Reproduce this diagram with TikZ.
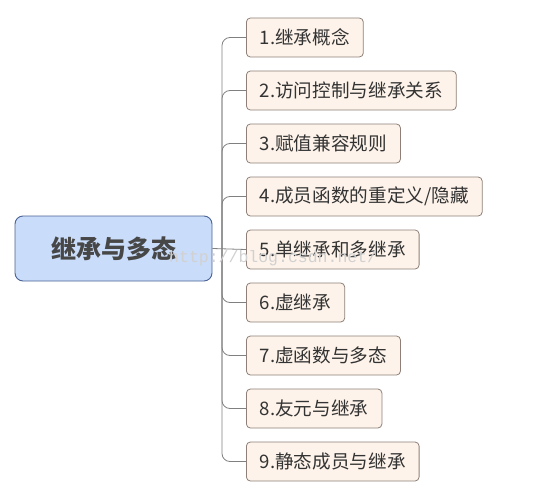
\documentclass[tikz,border=0pt]{standalone}
\usepackage{fontspec}
\newfontfamily\cjk{Noto Sans CJK SC}
\newfontfamily\wmark{Liberation Mono}
\usetikzlibrary{positioning}

\definecolor{rootfill}{HTML}{C9DCFA}
\definecolor{rootline}{HTML}{4A6294}
\definecolor{leaffill}{HTML}{FDF3EA}
\definecolor{leafline}{HTML}{8E8078}
\definecolor{linkgray}{HTML}{808080}
\definecolor{txtgray}{HTML}{333333}

\begin{document}
\begin{tikzpicture}[
  x=1pt, y=-1pt,
  root/.style={draw=rootline, fill=rootfill, rounded corners=8pt, line width=0.9pt,
    minimum width=197pt, minimum height=65pt, font=\cjk\bfseries\fontsize{25}{28}\selectfont,
    text=black!72},
  leaf/.style={draw=leafline, fill=leaffill, rounded corners=4pt, line width=0.8pt, anchor=west,
    minimum height=39pt, inner xsep=13.5pt, font=\cjk\fontsize{18.6}{20}\selectfont, text=txtgray},
  link/.style={draw=linkgray, line width=0.8pt, rounded corners=8pt},
  wm/.style={font=\wmark\fontsize{16.5}{18}\selectfont, text=black!18, inner sep=0pt},
]
  \useasboundingbox (0,0) rectangle (534,492);

  \node[root] (root) at (113.5,248.5) {继承与多态};

  \foreach \t [count=\i] in {1.继承概念, 2.访问控制与继承关系, 3.赋值兼容规则,
      4.成员函数的重定义/隐藏, 5.单继承和多继承, 6.虚继承, 7.虚函数与多态,
      8.友元与继承, 9.静态成员与继承}
    \node[leaf] (c\i) at (246,-15.5+53*\i) {\t};

  \coordinate (hub) at (222,248.5);

  % trunk and branches
  \draw[link] (root.east) -- (c5.west);
  \foreach \i in {1,2,3,4,6,7,8,9} \draw[link] (hub) |- (c\i.west);

  \node[wm, anchor=base west] (mark) at (169,262) {http://blog.csdn.net/};
\end{tikzpicture}
\end{document}
